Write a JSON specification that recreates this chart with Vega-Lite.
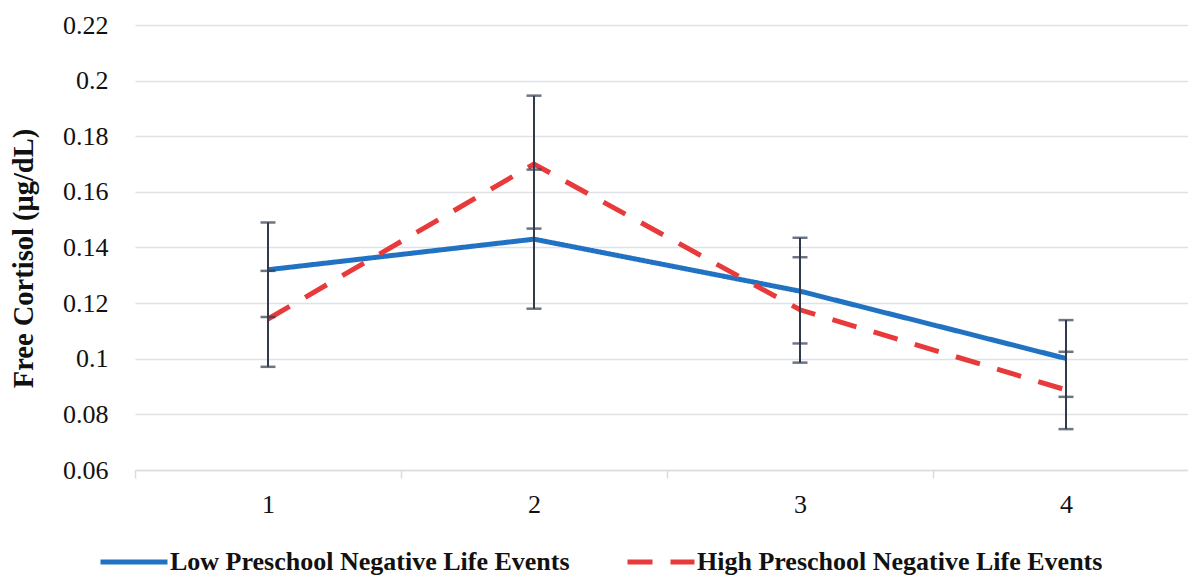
{
  "$schema": "https://vega.github.io/schema/vega-lite/v6.json",
  "autosize": {"type": "none"},
  "padding": {"left": 135, "top": 25, "right": 0, "bottom": 109},
  "width": 1053,
  "height": 445,
  "background": "white",
  "config": {
    "view": {"stroke": null},
    "font": "Liberation Serif"
  },
  "data": {
    "values": [
      {"t": "1", "series": "Low Preschool Negative Life Events", "v": 0.132, "lo": 0.115, "hi": 0.149},
      {"t": "2", "series": "Low Preschool Negative Life Events", "v": 0.143, "lo": 0.118, "hi": 0.168},
      {"t": "3", "series": "Low Preschool Negative Life Events", "v": 0.1243, "lo": 0.1055, "hi": 0.1435},
      {"t": "4", "series": "Low Preschool Negative Life Events", "v": 0.1001, "lo": 0.0863, "hi": 0.1139},
      {"t": "1", "series": "High Preschool Negative Life Events", "v": 0.1143, "lo": 0.0971, "hi": 0.1316},
      {"t": "2", "series": "High Preschool Negative Life Events", "v": 0.1700, "lo": 0.1468, "hi": 0.1946},
      {"t": "3", "series": "High Preschool Negative Life Events", "v": 0.1176, "lo": 0.0986, "hi": 0.1365},
      {"t": "4", "series": "High Preschool Negative Life Events", "v": 0.0888, "lo": 0.0747, "hi": 0.1025}
    ]
  },
  "encoding": {
    "x": {
      "field": "t", "type": "ordinal",
      "scale": {"type": "band", "domain": ["1", "2", "3", "4"], "range": [0, 1064], "paddingInner": 0, "paddingOuter": 0},
      "axis": {
        "title": null, "labelAngle": 0, "tickBand": "extent",
        "domainColor": "#d9dce1", "domainWidth": 1.5,
        "tickColor": "#d9dce1", "tickSize": 8, "tickWidth": 1.5,
        "labelFont": "Liberation Serif", "labelFontSize": 26, "labelColor": "#111111",
        "labelPadding": 13, "grid": false
      }
    }
  },
  "layer": [
    {
      "mark": {"type": "line", "strokeWidth": 5},
      "encoding": {
        "y": {
          "field": "v", "type": "quantitative",
          "scale": {"domain": [0.06, 0.22], "nice": false, "zero": false},
          "axis": {
            "title": "Free Cortisol (μg/dL)",
            "titleFont": "Liberation Serif", "titleFontSize": 28.5, "titleFontWeight": "bold", "titleColor": "#111111",
            "titleX": -97, "titleY": 233,
            "values": [0.06, 0.08, 0.1, 0.12, 0.14, 0.16, 0.18, 0.2, 0.22],
            "format": "~g",
            "domain": false, "ticks": false,
            "grid": true, "gridColor": "#dfe1e5", "gridWidth": 1.5,
            "labelFont": "Liberation Serif", "labelFontSize": 26, "labelColor": "#111111",
            "labelPadding": 27
          }
        },
        "color": {
          "field": "series", "type": "nominal",
          "scale": {
            "domain": ["Low Preschool Negative Life Events", "High Preschool Negative Life Events"],
            "range": ["#2272c3", "#e83a3b"]
          },
          "legend": {
            "title": null, "orient": "none", "direction": "horizontal",
            "legendX": -37, "legendY": 501, "padding": 0,
            "symbolType": "stroke", "symbolSize": 4489, "symbolStrokeWidth": 5,
            "labelFont": "Liberation Serif", "labelFontSize": 26, "labelFontWeight": "bold",
            "labelColor": "#111111", "labelLimit": 0, "labelOffset": 0, "columnPadding": 47
          }
        },
        "strokeDash": {
          "field": "series", "type": "nominal",
          "scale": {
            "domain": ["Low Preschool Negative Life Events", "High Preschool Negative Life Events"],
            "range": [[1, 0], [25, 18]]
          },
          "legend": {
            "title": null, "orient": "none", "direction": "horizontal",
            "legendX": -37, "legendY": 501, "padding": 0,
            "symbolType": "stroke", "symbolSize": 4489, "symbolStrokeWidth": 5,
            "labelFont": "Liberation Serif", "labelFontSize": 26, "labelFontWeight": "bold",
            "labelColor": "#111111", "labelLimit": 0, "labelOffset": 0, "columnPadding": 47
          }
        }
      }
    },
    {
      "mark": {"type": "rule", "color": "#2f3a4d", "strokeWidth": 2},
      "encoding": {
        "y": {"field": "lo", "type": "quantitative"},
        "y2": {"field": "hi"}
      }
    },
    {
      "mark": {"type": "tick", "color": "#2f3a4d", "size": 15, "thickness": 2.5, "orient": "horizontal"},
      "encoding": {"y": {"field": "lo", "type": "quantitative"}}
    },
    {
      "mark": {"type": "tick", "color": "#2f3a4d", "size": 15, "thickness": 2.5, "orient": "horizontal"},
      "encoding": {"y": {"field": "hi", "type": "quantitative"}}
    }
  ]
}
